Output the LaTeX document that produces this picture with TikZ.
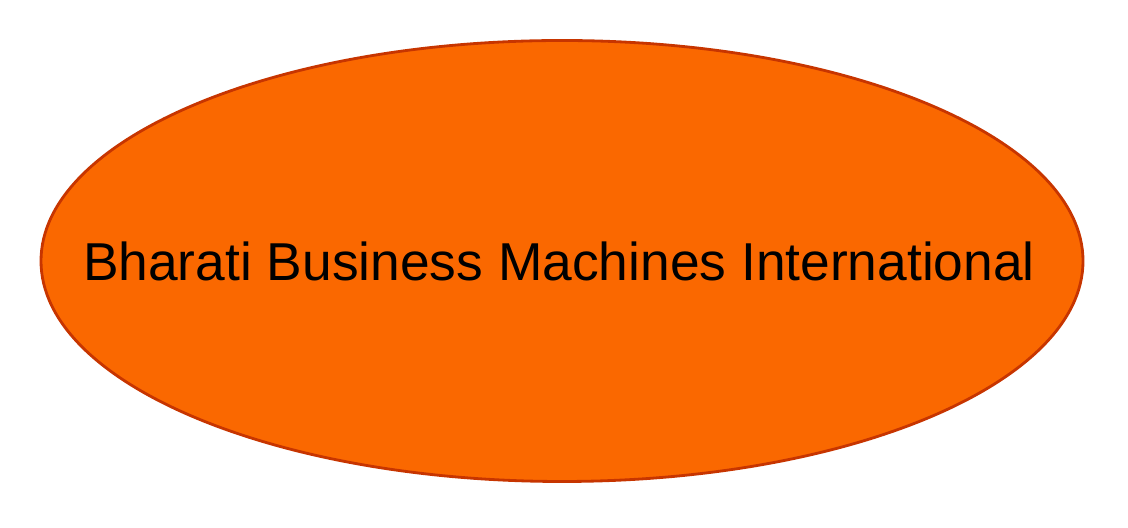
\documentclass[tikz,border=0pt]{standalone}
\usepackage{fontspec}
\setmainfont{Liberation Sans}
\usetikzlibrary{shapes.geometric}
\definecolor{bbmfill}{HTML}{FA6800}
\definecolor{bbmline}{HTML}{C73500}
\tikzset{company/.style={ellipse,draw=bbmline,fill=bbmfill,line width=2pt,inner sep=0pt,
  minimum width=26.05cm,minimum height=11.025cm},
  companyname/.style={inner sep=0pt,font=\fontsize{37.95}{44}\selectfont}}
\begin{document}
\begin{tikzpicture}
\useasboundingbox (0,0) rectangle (28.2,13.2);
\node[company] (bbm) at (14.05,6.675) {};
\node[companyname] (bbmname) at (13.975,6.675) {Bharati Business Machines International};
\end{tikzpicture}
\end{document}
